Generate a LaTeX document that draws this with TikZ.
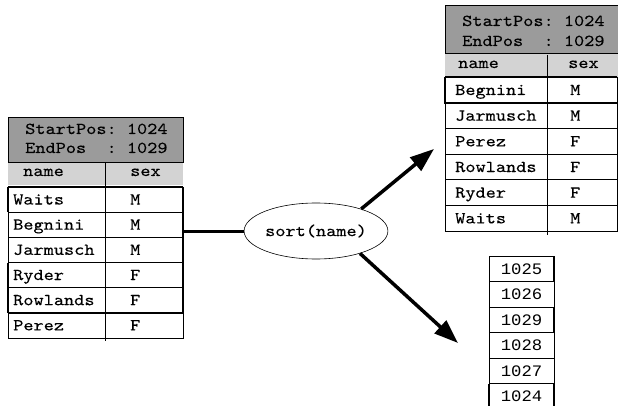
\documentclass[tikz,border=0pt]{standalone}
\usepackage{fontspec}
\usetikzlibrary{shapes.geometric,arrows.meta}
\newfontfamily\tabfont{lmmono10-regular.otf}[FakeStretch=1.16,FakeBold=0.25]
\newfontfamily\numfont{Liberation Mono}[FakeStretch=1.08]
\definecolor{hdrdark}{RGB}{155,155,155}
\definecolor{hdrlight}{RGB}{211,211,211}

\begin{document}
\begin{tikzpicture}[x=1pt,y=-1pt,
  cell/.style={inner sep=0pt, anchor=base west, font=\tabfont\fontsize{16.7}{19}\selectfont},
  num/.style={inner sep=0pt, anchor=center, font=\numfont\fontsize{16}{18}\selectfont},
  rule/.style={line width=0.8pt},
  heavy/.style={line width=1.8pt},
  link/.style={line width=3pt},
  flow/.style={line width=3.5pt, -{Triangle[length=24pt,width=17pt]}},
]
\useasboundingbox (0,0) rectangle (618,406);

% ---- unsorted relation (left) ----
\fill[hdrdark] (8,117) rectangle (183,162);
\fill[hdrlight] (8,162) rectangle (183,185);
\draw[rule] (8,117) rectangle (183,162);
\node[cell] (L-start) at (25,134) {StartPos:\hphantom{x}1024};
\node[cell] (L-end) at (25,153) {EndPos\hphantom{xx}:\hphantom{x}1029};
\node[cell] (L-hname) at (23,176) {name};
\node[cell] (L-hsex) at (130,176) {sex};
\foreach \n/\s [count=\i from 0] in {Waits/M,Begnini/M,Jarmusch/M,Ryder/F,Rowlands/F,Perez/F}{
  \pgfmathsetmacro\ry{187+25.17*\i}
  \draw[rule] (8,\ry) rectangle (183,\ry+25.17);
  \node[cell] (L-n\i) at (13,\ry+17.5) {\n};
  \node[cell] (L-s\i) at (130,\ry+17.5) {\s};
}
\draw[rule] (105,163) -- (105,341);
\draw[heavy] (8,187) -- (183,187);
\draw[heavy] (8,187) -- (8,212);
\draw[heavy] (8,263) -- (8,313);
\draw[heavy] (8,313) -- (183,313);
\draw[line width=1.3pt] (183,187) -- (183,313);

% ---- sort operator ----
\node[ellipse, draw, line width=0.6pt, minimum width=132pt, minimum height=56pt,
      inner sep=0pt, font=\tabfont\fontsize{16.7}{19}\selectfont] (sort) at (316,231) {sort(name)};
\coordinate (L-out) at (183,231);
\draw[link] (L-out) -- (sort.west);
\coordinate (tipA) at (434,149);
\coordinate (tipB) at (458,343);
\draw[flow] (sort.26.6) -- (tipA);
\draw[flow] (sort.-27) -- (tipB);

% ---- sorted relation (right) ----
\fill[hdrdark] (445,5) rectangle (618,53);
\fill[hdrlight] (445,53) rectangle (618,77);
\draw[rule] (445,5) rectangle (618,53);
\node[cell] (R-start) at (462,26) {StartPos:\hphantom{x}1024};
\node[cell] (R-end) at (462,46) {EndPos\hphantom{xx}:\hphantom{x}1029};
\node[cell] (R-hname) at (458,68) {name};
\node[cell] (R-hsex) at (568,68) {sex};
\foreach \n/\s [count=\i from 0] in {Begnini/M,Jarmusch/M,Perez/F,Rowlands/F,Ryder/F,Waits/M}{
  \pgfmathsetmacro\ry{77+25.67*\i}
  \draw[rule] (445,\ry) rectangle (617,\ry+25.67);
  \node[cell] (R-n\i) at (455,\ry+18) {\n};
  \node[cell] (R-s\i) at (570,\ry+18) {\s};
}
\draw[rule] (547,55) -- (547,235);
\draw[heavy] (445,77) -- (445,103) -- (617,103);
\draw[heavy] (445,77) -- (617,77);

% ---- position list ----
\foreach \v [count=\i from 0] in {1025,1026,1029,1028,1027,1024}{
  \pgfmathsetmacro\ry{256+25.5*\i}
  \draw[rule] (489,\ry) rectangle (554,\ry+25.5);
  \node[num] (P-\i) at (521.5,\ry+12.75) {\v};
}
\draw[heavy] (489,383.5) -- (554,383.5);
\draw[heavy] (489,383.5) -- (489,410);
\draw[heavy] (554,383.5) -- (554,410);
\draw[line width=1.3pt] (554,256) -- (554,281);
\draw[line width=1.3pt] (554,307) -- (554,333);
\end{tikzpicture}
\end{document}
